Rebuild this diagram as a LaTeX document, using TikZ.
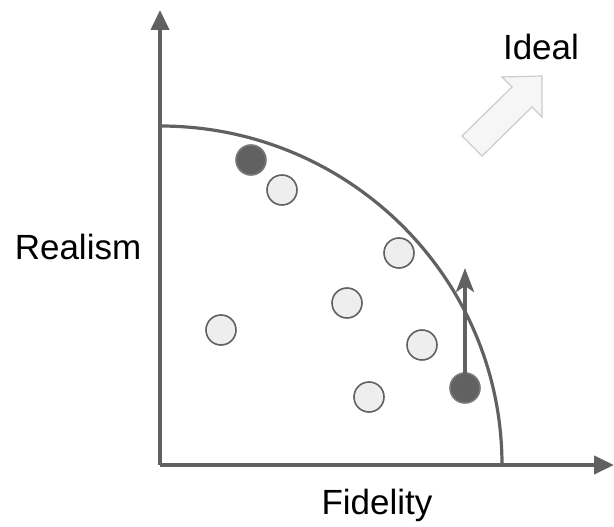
\documentclass[tikz,border=0pt]{standalone}
\usepackage{fontspec}
\setmainfont{Liberation Sans}
\usetikzlibrary{arrows.meta}
\definecolor{AxisGrey}{RGB}{97,97,97}
\definecolor{DotLight}{RGB}{238,238,238}
\definecolor{HintFill}{RGB}{246,246,246}
\definecolor{HintEdge}{RGB}{204,204,204}
\begin{document}
\begin{tikzpicture}[x=1pt,y=-1pt,
  axis/.style={draw=AxisGrey,line width=4pt,-{Triangle[length=20pt,width=18pt]}},
  dot/.style={circle,draw=AxisGrey,line width=1.6pt,fill=DotLight,minimum size=30pt,inner sep=0pt},
  best/.style={dot,fill=AxisGrey,draw=AxisGrey!85},
  lbl/.style={font=\fontsize{35}{42}\selectfont,text=black}
]
  \useasboundingbox (0,0) rectangle (614,527);
  % axes
  \coordinate (o) at (160,465);
  \coordinate (ytop) at (160,10);
  \coordinate (xend) at (614,465);
  \draw[axis] (o)--(ytop);
  \draw[axis] (o)--(xend);
  % front
  \draw[AxisGrey,line width=3.2pt] (160,126) arc[start angle=-90,end angle=0,x radius=342,y radius=339];
  % points
  \node[best] (p1) at (251,160) {};
  \node[dot] (p2) at (282,190) {};
  \node[dot] (p3) at (399,253) {};
  \node[dot] (p4) at (347,303) {};
  \node[dot] (p5) at (221,330) {};
  \node[dot] (p6) at (422,345) {};
  \node[dot] (p7) at (369,397) {};
  \node[best] (p8) at (465,388) {};
  \coordinate (up) at (465,268);
  \draw[AxisGrey,line width=4pt,-{Stealth[length=24pt,width=18pt,inset=6pt]}] ([yshift=-15pt]p8.north)--(up);
  % hint arrow
  \draw[draw=HintEdge,fill=HintFill,line width=1.2pt,line join=miter]
    (462,136)--(512,87)--(502,77)--(542,76)--(542,117)--(532,107)--(482,156)--cycle;
  % labels
  \node[lbl] (ideal) at (541,47) {Ideal};
  \node[lbl] (realism) at (78,247) {Realism};
  \node[lbl] (fidelity) at (377,505) {Fidelity};
\end{tikzpicture}
\end{document}
